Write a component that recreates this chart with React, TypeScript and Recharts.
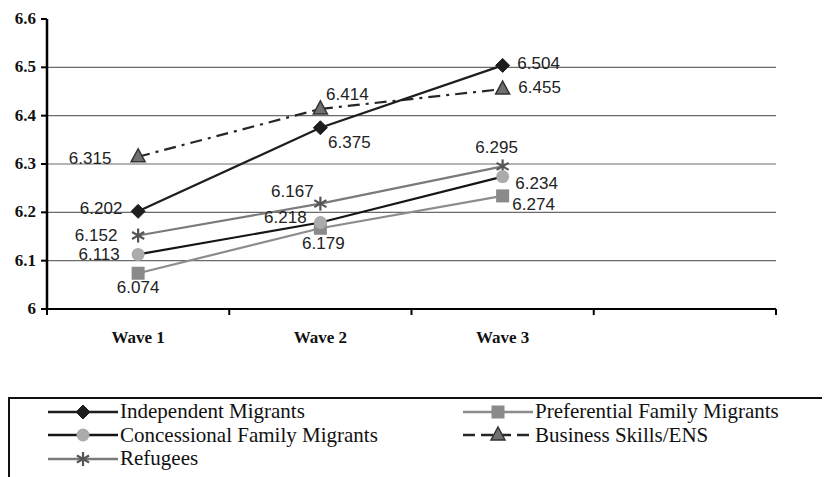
import React from "react";
import { LineChart, Line, XAxis, YAxis, ReferenceLine, LabelList } from "recharts";

const waves = ["Wave 1", "Wave 2", "Wave 3"];
const independent = [6.202, 6.375, 6.504];
const preferential = [6.074, 6.167, 6.234];
const concessional = [6.113, 6.179, 6.274];
const business = [6.315, 6.414, 6.455];
const refugees = [6.152, 6.218, 6.295];

// data labels exactly as printed in the source chart
const independentLabels = ["6.202", "6.375", "6.504"];
const preferentialLabels = ["6.074", "6.179", "6.274"];
const concessionalLabels = ["6.113", "6.218", "6.234"];
const businessLabels = ["6.315", "6.414", "6.455"];
const refugeesLabels = ["6.152", "6.167", "6.295"];

const yTicks = [6, 6.1, 6.2, 6.3, 6.4, 6.5, 6.6];
const gridValues = [6.1, 6.2, 6.3, 6.4, 6.5];
const xBoundaryTicks = [0, 1, 2, 3, 4];

const SERIF = "Liberation Serif, Tinos, DejaVu Serif, serif";
const SANS = "Liberation Sans, Arimo, Arial, sans-serif";

const data = waves.map((w, i) => ({
  pos: i + 0.5,
  wave: w,
  independent: independent[i],
  preferential: preferential[i],
  concessional: concessional[i],
  business: business[i],
  refugees: refugees[i],
}));

type Series = {
  key: string;
  name: string;
  labels: string[];
  color: string;
  dash?: string;
  marker: string;
  markerFill: string;
  markerStroke: string;
  offsets: [number, number][];
};

const series: Series[] = [
  { key: "preferential", name: "Preferential Family Migrants", labels: preferentialLabels, color: "#8c8c8c", marker: "square", markerFill: "#8a8a8a", markerStroke: "#8a8a8a", offsets: [[0, 14], [3, 15], [31, 9]] },
  { key: "refugees", name: "Refugees", labels: refugeesLabels, color: "#7a7a7a", marker: "asterisk", markerFill: "#555", markerStroke: "#555", offsets: [[-42, 0], [-28, -12], [-6, -19]] },
  { key: "concessional", name: "Concessional Family Migrants", labels: concessionalLabels, color: "#151515", marker: "circle", markerFill: "#ababab", markerStroke: "#ababab", offsets: [[-39, 0], [-35, -5], [34, 7]] },
  { key: "business", name: "Business Skills/ENS", labels: businessLabels, color: "#262626", dash: "12 6 3 6", marker: "triangle", markerFill: "#707070", markerStroke: "#333", offsets: [[-48, 2], [27, -14], [37, -2]] },
  { key: "independent", name: "Independent Migrants", labels: independentLabels, color: "#1e1e1e", marker: "diamond", markerFill: "#1e1e1e", markerStroke: "#1e1e1e", offsets: [[-37, -3], [29, 15], [36, -2]] },
];

const legendOrder = ["independent", "preferential", "concessional", "business", "refugees"];

function Marker({ type, cx, cy, fill, stroke }: { type: string; cx: number; cy: number; fill: string; stroke: string }) {
  if (type === "diamond") {
    return <polygon points={`${cx},${cy - 7} ${cx + 7},${cy} ${cx},${cy + 7} ${cx - 7},${cy}`} fill={fill} stroke={stroke} />;
  }
  if (type === "square") {
    return <rect x={cx - 6.5} y={cy - 6.5} width={13} height={13} fill={fill} />;
  }
  if (type === "circle") {
    return <circle cx={cx} cy={cy} r={6.5} fill={fill} />;
  }
  if (type === "triangle") {
    return <polygon points={`${cx},${cy - 8} ${cx + 7},${cy + 5} ${cx - 7},${cy + 5}`} fill={fill} stroke={stroke} strokeWidth={1.5} />;
  }
  // asterisk
  const r = 7;
  const angles = [90, 30, 150];
  return (
    <g stroke={stroke} strokeWidth={2.2}>
      {angles.map((a) => {
        const rad = (a * Math.PI) / 180;
        const dx = r * Math.cos(rad);
        const dy = r * Math.sin(rad);
        return <line key={a} x1={cx - dx} y1={cy - dy} x2={cx + dx} y2={cy + dy} />;
      })}
    </g>
  );
}

function XTick(props: any) {
  const { x, y, payload } = props;
  const v = payload.value as number;
  if (Number.isInteger(v)) {
    return <line x1={x} y1={y} x2={x} y2={y + 6} stroke="#000" strokeWidth={2} />;
  }
  const label = waves[Math.floor(v)] ?? "";
  return (
    <text x={x} y={y + 34} textAnchor="middle" style={{ fontFamily: SERIF }} fontWeight="bold" fontSize={17} fill="#111">
      {label}
    </text>
  );
}

function YTick(props: any) {
  const { x, y, payload } = props;
  const v = payload.value as number;
  return (
    <text x={x} y={y} dy={5} textAnchor="end" style={{ fontFamily: SERIF }} fontWeight="bold" fontSize={17} fill="#111">
      {v === 6 ? "6" : v.toFixed(1)}
    </text>
  );
}

const xTicks = [...xBoundaryTicks, ...waves.map((_, i) => i + 0.5)].sort((a, b) => a - b);

export default function App() {
  return (
    <div style={{ position: "relative", width: 822, height: 469 }}>
      <LineChart width={822} height={340} data={data} margin={{ top: 11, right: 54, left: 0, bottom: 0 }}>
        <XAxis
          type="number"
          dataKey="pos"
          domain={[0, 4]}
          ticks={xTicks}
          interval={0}
          tickLine={false}
          tickSize={0}
          tickMargin={0}
          height={39}
          axisLine={{ stroke: "#000", strokeWidth: 2 }}
          tick={<XTick />}
        />
        <YAxis
          type="number"
          domain={[6, 6.6]}
          ticks={yTicks}
          interval={0}
          width={39}
          tickSize={6}
          tickMargin={5}
          axisLine={{ stroke: "#000", strokeWidth: 2.5 }}
          tickLine={{ stroke: "#000", strokeWidth: 2 }}
          tick={<YTick />}
        />
        {gridValues.map((g) => (
          <ReferenceLine key={g} y={g} stroke="#6a6a6a" strokeWidth={1.2} />
        ))}
        {series.map((s) => (
          <Line
            key={s.key}
            dataKey={s.key}
            name={s.name}
            type="linear"
            stroke={s.color}
            strokeWidth={2.2}
            strokeDasharray={s.dash}
            isAnimationActive={false}
            dot={(p: any) => (
              <Marker key={`${s.key}-${p.index}`} type={s.marker} cx={p.cx} cy={p.cy} fill={s.markerFill} stroke={s.markerStroke} />
            )}
            activeDot={false}
          >
            <LabelList
              dataKey={s.key}
              content={(p: any) => {
                const i = p.index as number;
                const off = s.offsets[i] || [0, 0];
                return (
                  <text
                    x={p.x + off[0]}
                    y={p.y + off[1]}
                    textAnchor="middle"
                    dominantBaseline="central"
                    style={{ fontFamily: SANS }}
                    fontSize={17}
                    fill="#222"
                  >
                    {s.labels[i]}
                  </text>
                );
              }}
            />
          </Line>
        ))}
      </LineChart>
      <div
        style={{
          position: "absolute",
          left: 0,
          top: 389,
          width: 816,
          height: 100,
          borderTop: "2px solid #111",
          borderLeft: "2px solid #111",
          borderRight: "2px solid #111",
          boxSizing: "content-box",
          display: "grid",
          gridTemplateColumns: "415px 380px",
          gridAutoRows: "23.5px",
          paddingLeft: 38,
          paddingTop: 1,
          fontFamily: SERIF,
          fontSize: 21,
          color: "#111",
          overflow: "hidden",
        }}
      >
        {legendOrder.map((k) => {
          const s = series.find((x) => x.key === k)!;
          return (
            <div key={k} style={{ display: "flex", alignItems: "center", height: 23.5, whiteSpace: "nowrap" }}>
              <svg width={70} height={20} style={{ flexShrink: 0 }}>
                <line x1={0} y1={10} x2={70} y2={10} stroke={s.color} strokeWidth={2.5} strokeDasharray={s.dash ? "12 6" : undefined} />
                <Marker type={s.marker} cx={35} cy={10} fill={s.markerFill} stroke={s.markerStroke} />
              </svg>
              <span style={{ marginLeft: 2, lineHeight: "23.5px" }}>{s.name}</span>
            </div>
          );
        })}
      </div>
    </div>
  );
}
